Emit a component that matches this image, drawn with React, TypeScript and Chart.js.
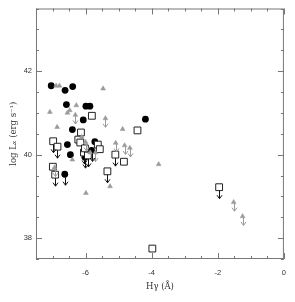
import React, { useEffect, useRef } from "react";
import { Chart, registerables } from "chart.js";

Chart.register(...registerables);

// Detections
const circlePts: number[][] = [
  [-7.04, 41.65], [-6.62, 41.54], [-6.39, 41.63], [-6.58, 41.2], [-5.99, 41.16],
  [-5.87, 41.16], [-6.07, 40.83], [-6.4, 40.6], [-4.19, 40.85], [-6.55, 40.24],
  [-5.72, 40.31], [-6.46, 40.0],
];
const circleLimPts: number[][] = [
  [-6.63, 39.53], [-5.82, 40.1], [-6.02, 39.94],
];
const trianglePts: number[][] = [
  [-6.89, 41.65], [-6.79, 41.65], [-5.47, 41.58], [-7.08, 41.02], [-6.28, 41.18],
  [-6.48, 41.06], [-6.55, 41.0], [-6.86, 40.66], [-4.88, 40.61], [-6.4, 39.88],
  [-5.99, 39.08], [-5.26, 39.24], [-3.79, 39.77], [-6.12, 40.42], [-5.86, 40.05],
];
const triangleLimPts: number[][] = [
  [-6.31, 40.95], [-5.4, 40.87], [-5.09, 40.28], [-4.82, 40.22], [-4.66, 40.16],
  [-6.94, 39.69], [-1.52, 38.86], [-1.25, 38.52], [-6.0, 40.3], [-5.7, 40.05],
];
const squarePts: number[][] = [
  [-5.81, 40.93], [-6.14, 40.53], [-4.43, 40.58], [-6.22, 40.36], [-6.16, 40.29],
  [-5.63, 40.24], [-5.57, 40.13], [-4.84, 39.83], [-6.99, 39.71], [-6.02, 40.15],
  [-3.98, 37.75],
];
const squareLimPts: number[][] = [
  [-6.98, 40.32], [-6.85, 40.19], [-5.1, 40.0], [-6.92, 39.52], [-5.34, 39.6],
  [-1.96, 39.22], [-6.05, 40.05], [-5.93, 39.98],
];

const xMin = -7.5, xMax = 0, yMin = 37.5, yMax = 43.5;
const xTickLabels = [-6, -4, -2, 0];
const yTickLabels = [38, 40, 42];

const GRAY = "#9a9a9a";

const toXY = (a: number[][]) => a.map(([x, y]) => ({ x, y }));

const framePlugin = {
  id: "frame",
  afterDatasetsDraw(chart: any) {
    const { ctx, chartArea, scales } = chart;
    const { left, right, top, bottom } = chartArea;
    const sx = scales.x, sy = scales.y;
    ctx.save();
    // upper-limit arrows
    chart.data.datasets.forEach((ds: any, i: number) => {
      if (!ds.limit) return;
      const meta = chart.getDatasetMeta(i);
      ctx.strokeStyle = ds.limitColor;
      ctx.lineWidth = 1;
      meta.data.forEach((el: any) => {
        const x = Math.round(el.x) + 0.5;
        const y0 = el.y + ds.limitStart;
        const y1 = el.y + ds.limitEnd;
        ctx.beginPath();
        ctx.moveTo(x, y0);
        ctx.lineTo(x, y1);
        ctx.moveTo(x - 2.5, y1 - 3.5);
        ctx.lineTo(x, y1);
        ctx.lineTo(x + 2.5, y1 - 3.5);
        ctx.stroke();
      });
    });
    // frame
    ctx.strokeStyle = "#777";
    ctx.lineWidth = 1;
    ctx.strokeRect(left + 0.5, top + 0.5, right - left - 1, bottom - top - 1);
    ctx.beginPath();
    for (let k = 0; k <= (xMax - xMin) / 0.5; k++) {
      const v = xMin + k * 0.5;
      const px = Math.round(sx.getPixelForValue(v)) + 0.5;
      const len = Math.abs(v % 2) < 1e-9 ? 6 : 3;
      ctx.moveTo(px, bottom);
      ctx.lineTo(px, bottom - len);
      ctx.moveTo(px, top);
      ctx.lineTo(px, top + len);
    }
    for (let k = 0; k <= (yMax - yMin) / 0.5; k++) {
      const v = yMin + k * 0.5;
      const py = Math.round(sy.getPixelForValue(v)) + 0.5;
      const len = Math.abs(v % 2) < 1e-9 ? 6 : 3;
      ctx.moveTo(left, py);
      ctx.lineTo(left + len, py);
      ctx.moveTo(right, py);
      ctx.lineTo(right - len, py);
    }
    ctx.stroke();
    ctx.restore();
  },
};

export default function App() {
  const ref = useRef<HTMLCanvasElement | null>(null);
  useEffect(() => {
    if (!ref.current) return;
    const chart = new Chart(ref.current, {
      type: "scatter",
      data: {
        datasets: [
          {
            data: toXY(triangleLimPts), pointStyle: "triangle", pointRadius: 2.8,
            backgroundColor: GRAY, borderColor: GRAY, borderWidth: 0.5,
            limit: true, limitColor: GRAY, limitStart: 1, limitEnd: 9,
          } as any,
          {
            data: toXY(trianglePts), pointStyle: "triangle", pointRadius: 2.8,
            backgroundColor: GRAY, borderColor: GRAY, borderWidth: 0.5,
          },
          {
            data: toXY(squarePts), pointStyle: "rect", pointRadius: 4.8,
            backgroundColor: "rgba(255,255,255,1)", borderColor: "#222", borderWidth: 1,
          },
          {
            data: toXY(squareLimPts), pointStyle: "rect", pointRadius: 4.8,
            backgroundColor: "rgba(255,255,255,1)", borderColor: "#222", borderWidth: 1,
            limit: true, limitColor: "#111", limitStart: 3.5, limitEnd: 11.5,
          } as any,
          {
            data: toXY(circlePts), pointStyle: "circle", pointRadius: 3.4,
            backgroundColor: "#000", borderColor: "#000", borderWidth: 0,
          },
          {
            data: toXY(circleLimPts), pointStyle: "circle", pointRadius: 3.4,
            backgroundColor: "#000", borderColor: "#000", borderWidth: 0,
            limit: true, limitColor: "#111", limitStart: 3, limitEnd: 11,
          } as any,
        ],
      },
      options: {
        animation: false,
        responsive: false,
        events: [],
        layout: { padding: { top: 5, right: 6, left: 0, bottom: 0 } },
        plugins: { legend: { display: false }, tooltip: { enabled: false } },
        scales: {
          x: {
            type: "linear",
            min: xMin, max: xMax,
            grid: { display: false, drawTicks: false },
            border: { display: false },
            afterFit: (s: any) => { s.height = 43; },
            afterBuildTicks: (s: any) => { s.ticks = xTickLabels.map((v) => ({ value: v })); },
            ticks: {
              padding: 9, color: "#333", maxRotation: 0,
              font: { family: "Liberation Sans", size: 7.5 },
            },
            title: {
              display: true, text: "Hγ (Å)", color: "#333",
              font: { family: "DejaVu Serif", size: 8.5 },
              padding: { top: 0, bottom: 10 },
            },
          },
          y: {
            type: "linear",
            min: yMin, max: yMax,
            grid: { display: false, drawTicks: false },
            border: { display: false },
            afterFit: (s: any) => { s.width = 36; },
            afterBuildTicks: (s: any) => { s.ticks = yTickLabels.map((v) => ({ value: v })); },
            ticks: {
              padding: 4, color: "#333",
              font: { family: "Liberation Sans", size: 7.5 },
            },
            title: {
              display: true, text: "log Lₓ (erg s⁻¹)", color: "#333",
              font: { family: "DejaVu Serif", size: 8.5 },
              padding: { top: 9, bottom: 0 },
            },
          },
        },
      } as any,
      plugins: [framePlugin],
    });
    return () => chart.destroy();
  }, []);
  return (
    <div style={{ position: "absolute", left: 0, top: 0, width: 295, height: 302, background: "#fff" }}>
      <canvas ref={ref} width={295} height={302} style={{ display: "block" }} />
    </div>
  );
}
